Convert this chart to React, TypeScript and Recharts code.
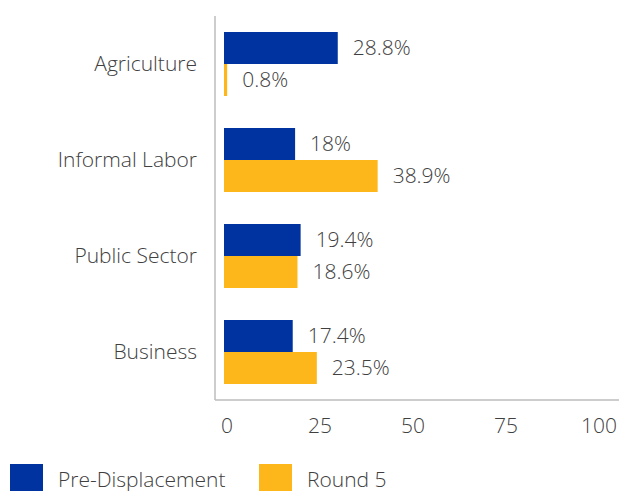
import React from 'react';
import { BarChart, Bar, XAxis, YAxis, LabelList, Legend } from 'recharts';

const categories = ['Agriculture', 'Informal Labor', 'Public Sector', 'Business'];
const preDisplacement = [28.8, 18, 19.4, 17.4];
const round5 = [0.8, 38.9, 18.6, 23.5];
const xTicks = [0, 25, 50, 75, 100];
const seriesNames = ['Pre-Displacement', 'Round 5'];

const BLUE = '#0033A0';
const ORANGE = '#FDB71A';
const TEXT = '#404040';
const AXIS = '#BDBDBD';
const FONT = '"Open Sans", "Noto Sans", sans-serif';
const FS = 21;

const data = categories.map((name, i) => ({
  name,
  pre: preDisplacement[i],
  r5: round5[i],
}));

const renderLegend = () => (
  <div style={{ display: 'flex', fontFamily: FONT, fontWeight: 300, fontSize: FS, color: TEXT, height: 27 }}>
    {[BLUE, ORANGE].map((c, i) => (
      <div key={i} style={{ position: 'relative', width: 249, height: 27, marginLeft: i === 0 ? 10 : 0 }}>
        <div style={{ position: 'absolute', left: 0, top: 0, width: 33, height: 27, background: c }} />
        <span style={{ position: 'absolute', left: 48, top: 4, height: 22, lineHeight: '22px', whiteSpace: 'nowrap' }}>{seriesNames[i]}</span>
      </div>
    ))}
  </div>
);

export default function App() {
  const labelStyle = { fontSize: FS, fill: TEXT, fontFamily: FONT, fontWeight: 300 } as any;
  return (
    <div style={{ position: 'absolute', left: 0, top: 0, width: 619, height: 491, overflow: 'hidden', background: '#fff' }}>
      <BarChart
        width={619}
        height={491}
        data={data}
        layout="vertical"
        margin={{ top: 16, right: 0, left: 0, bottom: 61 }}
        barGap={0}
        barCategoryGap={16}
      >
        <XAxis xAxisId="bar" type="number" domain={[0, 100]} padding={{ left: 9, right: 0 }} height={0} hide />
        <XAxis
          xAxisId="tick"
          type="number"
          domain={[0, 100]}
          ticks={xTicks}
          allowDataOverflow
          padding={{ left: 12, right: 20 }}
          axisLine={{ stroke: AXIS, strokeWidth: 1.5 }}
          tickLine={false}
          tickMargin={12}
          height={30}
          tick={{ fontSize: FS, fill: TEXT, fontFamily: FONT, fontWeight: 300 }}
        />
        <YAxis
          type="category"
          dataKey="name"
          width={215}
          axisLine={{ stroke: AXIS, strokeWidth: 1.5 }}
          tickLine={false}
          tickMargin={12}
          tick={{ fontSize: FS, fill: TEXT, fontFamily: FONT, fontWeight: 300 }}
        />
        <Legend
          layout="horizontal"
          verticalAlign="middle"
          align="center"
          wrapperStyle={{ left: 0, top: 464, width: 619, height: 27 }}
          content={renderLegend}
        />
        <Bar xAxisId="bar" dataKey="pre" name={seriesNames[0]} fill={BLUE} barSize={32} isAnimationActive={false}>
          <LabelList dataKey="pre" position="right" offset={15} formatter={(v: any) => `${v}%`} style={labelStyle} />
        </Bar>
        <Bar xAxisId="bar" dataKey="r5" name={seriesNames[1]} fill={ORANGE} barSize={32} isAnimationActive={false}>
          <LabelList dataKey="r5" position="right" offset={15} formatter={(v: any) => `${v}%`} style={labelStyle} />
        </Bar>
      </BarChart>
    </div>
  );
}
